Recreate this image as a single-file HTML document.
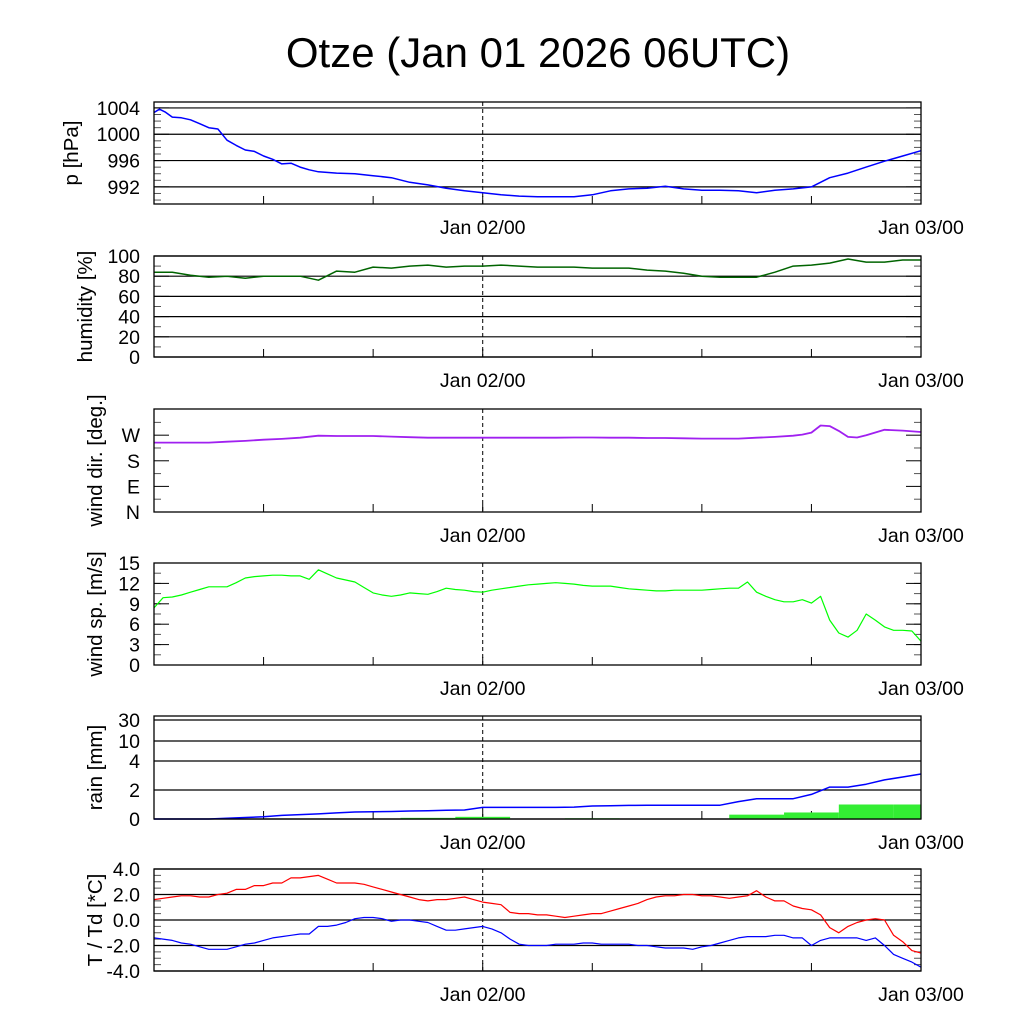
<!DOCTYPE html>
<html><head><meta charset="utf-8"><style>
html,body{margin:0;padding:0;background:#fff;}
svg{display:block;font-family:"Liberation Sans",sans-serif;}
</style></head><body>
<svg id="chart" width="1024" height="1024" viewBox="0 0 1024 1024">
<rect width="1024" height="1024" fill="#fff"/>
<text x="538" y="67" font-size="42" text-anchor="middle">Otze (Jan 01 2026 06UTC)</text>
</svg>
<script>
// hours since Jan 01 06UTC
const hours = [0,1,2,3,4,5,6,7,8,9,10,11,12,13,14,15,16,17,18,19,20,21,22,23,24,25,26,27,28,29,30,31,32,33,34,35,36,37,38,39,40,41,42];
const pressureHours = [0,0.3,0.6,1,1.5,2,2.5,3,3.5,4,4.5,5,5.5,6,6.5,7,7.5,8,8.5,9,10,11,12,13,14,15,16,17,18,19,20,21,22,23,24,25,26,27,28,29,30,31,32,33,34,35,36,37,38,39,40,41,42];
const pressure = [1003.3,1003.8,1003.4,1002.6,1002.5,1002.2,1001.6,1001,1000.8,999.1,998.3,997.6,997.4,996.7,996.2,995.5,995.6,995,994.6,994.3,994.1,994,993.7,993.4,992.7,992.3,991.8,991.4,991.1,990.8,990.6,990.5,990.5,990.5,990.8,991.4,991.7,991.8,992.1,991.7,991.5,991.5,991.4,991.1,991.5,991.7,992,993.4,994.1,995,995.9,996.7,997.5];
const humidity = [84,84,81,79,80,78,80,80,80,76,85,84,89,88,90,91,89,90,90,91,90,89,89,89,88,88,88,86,85,83,80,79,79,79,84,90,91,93,97,94,94,96,96];
const halfHours = [0,0.5,1,1.5,2,2.5,3,3.5,4,4.5,5,5.5,6,6.5,7,7.5,8,8.5,9,9.5,10,10.5,11,11.5,12,12.5,13,13.5,14,14.5,15,15.5,16,16.5,17,17.5,18,18.5,19,19.5,20,20.5,21,21.5,22,22.5,23,23.5,24,24.5,25,25.5,26,26.5,27,27.5,28,28.5,29,29.5,30,30.5,31,31.5,32,32.5,33,33.5,34,34.5,35,35.5,36,36.5,37,37.5,38,38.5,39,39.5,40,40.5,41,41.5,42];
const windDirHours = [0,1,2,3,4,5,6,7,8,9,10,11,12,13,14,15,16,17,18,19,20,21,22,23,24,25,26,27,28,29,30,31,32,33,34,35,35.5,36,36.5,37,37.5,38,38.5,39,40,41,42];
const windDir = [244,244,244,244,247,250,254,257,261,268,267,267,267,265,263,261,261,261,261,261,261,261,261,262,262,261,261,260,260,259,258,258,258,261,264,268,272,279,304,302,285,264,262,270,289,286,281];
const windSpd = [8.4,9.9,10,10.3,10.7,11.1,11.5,11.5,11.5,12.1,12.8,13,13.1,13.2,13.2,13.1,13.1,12.6,14,13.4,12.8,12.5,12.2,11.4,10.6,10.3,10.1,10.3,10.6,10.5,10.4,10.8,11.3,11.1,11,10.8,10.7,11,11.2,11.4,11.6,11.8,11.9,12,12.1,12,11.9,11.7,11.6,11.6,11.6,11.4,11.2,11.1,11,10.9,10.9,11,11,11,11,11.1,11.2,11.3,11.3,12.2,10.7,10.1,9.6,9.3,9.3,9.6,9.1,10.1,6.6,4.7,4.1,5.1,7.5,6.6,5.6,5.1,5.1,5,3.5];
const temp = [1.6,1.7,1.8,1.9,1.9,1.8,1.8,2.0,2.1,2.4,2.4,2.7,2.7,2.9,2.9,3.3,3.3,3.4,3.5,3.2,2.9,2.9,2.9,2.8,2.6,2.4,2.2,2.0,1.8,1.6,1.5,1.6,1.6,1.7,1.8,1.6,1.4,1.3,1.2,0.6,0.5,0.5,0.4,0.4,0.3,0.2,0.3,0.4,0.5,0.5,0.7,0.9,1.1,1.3,1.6,1.8,1.9,1.9,2.0,2.0,1.9,1.9,1.8,1.7,1.8,1.9,2.3,1.8,1.5,1.5,1.1,0.9,0.8,0.4,-0.6,-1.0,-0.5,-0.2,0,0.1,0,-1.2,-1.7,-2.4,-2.6];
const dewp = [-1.4,-1.5,-1.6,-1.8,-1.9,-2.1,-2.3,-2.3,-2.3,-2.1,-1.9,-1.8,-1.6,-1.4,-1.3,-1.2,-1.1,-1.1,-0.5,-0.5,-0.4,-0.2,0.1,0.2,0.2,0.1,-0.1,0,0,-0.1,-0.2,-0.5,-0.8,-0.8,-0.7,-0.6,-0.5,-0.7,-1.0,-1.5,-1.9,-2.0,-2.0,-2.0,-1.9,-1.9,-1.9,-1.8,-1.8,-1.9,-1.9,-1.9,-1.9,-2.0,-2.0,-2.1,-2.2,-2.2,-2.2,-2.3,-2.1,-2.0,-1.8,-1.6,-1.4,-1.3,-1.3,-1.3,-1.2,-1.2,-1.4,-1.4,-2.0,-1.6,-1.4,-1.4,-1.4,-1.4,-1.6,-1.4,-2.0,-2.7,-3.0,-3.3,-3.7];
const rainHours = [0,3,6,9,12,15,18,21,24,27,30,33,36,39,42];
const rainBars = [0,0,0.03,0.03,0.03,0.08,0.15,0,0.05,0.03,0,0.3,0.45,1.0,1.0];
const rainCum = [0,0,0,0,0.05,0.1,0.15,0.25,0.3,0.35,0.42,0.48,0.5,0.52,0.55,0.57,0.6,0.62,0.8,0.8,0.8,0.8,0.8,0.82,0.9,0.92,0.94,0.95,0.95,0.95,0.95,0.95,1.2,1.4,1.4,1.4,1.7,2.2,2.2,2.4,2.7,2.9,3.1];
const xTickLabels = ["Jan 02/00","Jan 03/00"];

const svg = document.getElementById('chart');
const NS = 'http://www.w3.org/2000/svg';
const X0 = 154, X1 = 921, H = 42;
function xs(h){ return X0 + (X1 - X0) * h / H; }
function mk(tag, attrs, parent){
  const e = document.createElementNS(NS, tag);
  for (const k in attrs) e.setAttribute(k, attrs[k]);
  (parent || svg).appendChild(e);
  return e;
}
function linScale(top, bot, vmax, vmin){ return v => bot - (v - vmin) / (vmax - vmin) * (bot - top); }
function pwScale(vals, ys){ return v => { for (let i=0;i<vals.length-1;i++){ if (v<=vals[i+1]) return ys[i] + (v-vals[i])/(vals[i+1]-vals[i])*(ys[i+1]-ys[i]); } return ys[ys.length-1]; }; }

function panel(name, top, bot, ys, majors, labels, minors, grid, ylabel, labelX){
  const g = mk('g', {});
  
  
  if (grid) majors.forEach(v => { const y = ys(v); mk('line', {x1:X0,x2:X1,y1:y,y2:y,stroke:'#000','stroke-width':1.2}, g); });
  minors.forEach(v => { const y = ys(v); mk('line', {x1:X0,x2:X0+7,y1:y,y2:y,stroke:'#555','stroke-width':1}, g); mk('line', {x1:X1-7,x2:X1,y1:y,y2:y,stroke:'#555','stroke-width':1}, g); });
  majors.forEach((v,i) => { const y = ys(v);
    mk('line', {x1:X0,x2:X0+15,y1:y,y2:y,stroke:'#000','stroke-width':1}, g);
    mk('line', {x1:X1-15,x2:X1,y1:y,y2:y,stroke:'#000','stroke-width':1}, g);
    const t = mk('text', {x:X0-14,y:y+7,'font-size':19.5,'text-anchor':'end'}, g); t.textContent = labels[i];
    
    
  });
  for (let h=6; h<H; h+=6){ mk('line', {x1:xs(h),x2:xs(h),y1:bot,y2:bot-8,stroke:'#000','stroke-width':1}, g); }
  mk('line', {x1:xs(18),x2:xs(18),y1:top,y2:bot,stroke:'#000','stroke-width':1,'stroke-dasharray':'4,3'}, g);
  const yl = mk('text', {transform:`translate(${labelX},${(top+bot)/2}) rotate(-90)`,'font-size':20.5,'text-anchor':'middle'}, g);
  yl.textContent = ylabel;
  
  
  [[18,xTickLabels[0]],[42,xTickLabels[1]]].forEach(([h,l]) => {
    const t = mk('text', {x:xs(h),y:bot+30,'font-size':19.5,'text-anchor':'middle'}, g); t.textContent = l;
    
    
  });
  return g;
}
function frame(g, top, bot){ mk('rect', {x:X0,y:top,width:X1-X0,height:bot-top,fill:'none',stroke:'#000','stroke-width':1.3}, g); }
function line(g, xsArr, vals, ys, color, w, name){
  const n = Math.min(xsArr.length, vals.length);
  const d = vals.slice(0,n).map((v,i) => (i?'L':'M') + xs(xsArr[i]).toFixed(1) + ',' + ys(v).toFixed(1)).join('');
  const p = mk('path', {d:d,fill:'none',stroke:color,'stroke-width':w,'stroke-linejoin':'round'}, g);
  
  
}
function range(a,b,s){ const r=[]; for(let v=a; v<=b+1e-9; v+=s) r.push(+v.toFixed(3)); return r; }

// pressure
let ys = linScale(102, 204, 1004.9, 989.4);
let g = panel('pressure', 102, 204, ys, [992,996,1000,1004], ['992','996','1000','1004'], range(990,1004,1), true, 'p [hPa]', 78);
line(g, pressureHours, pressure, ys, '#0000ff', 1.5, 'pressure-line'); frame(g,102,204);
// humidity
ys = linScale(256, 357, 100, 0);
g = panel('humidity', 256, 357, ys, [0,20,40,60,80,100], ['0','20','40','60','80','100'], range(0,100,10), true, 'humidity [%]', 92);
line(g, hours, humidity, ys, '#006400', 1.5, 'humidity-line'); frame(g,256,357);
// wind dir
ys = linScale(409, 512, 362, 0);
g = panel('wind-dir', 409, 512, ys, [0,90,180,270], ['N','E','S','W'], range(45,360,90), false, 'wind dir. [deg.]', 102);
line(g, windDirHours, windDir, ys, '#a020f0', 1.8, 'wind-dir-line'); frame(g,409,512);
// wind speed
ys = linScale(563, 665, 15, 0);
g = panel('wind-speed', 563, 665, ys, [0,3,6,9,12,15], ['0','3','6','9','12','15'], range(0,15,1.5), false, 'wind sp. [m/s]', 102);
line(g, halfHours, windSpd, ys, '#00ff00', 1.2, 'wind-speed-line'); frame(g,563,665);
// rain
ys = pwScale([0,2,4,10,30],[819,790,761,741,720]);
g = panel('rain', 716, 819, ys, [0,2,4,10,30], ['0','2','4','10','30'], [], true, 'rain [mm]', 102);
rainBars.forEach((v,i) => {
  const a = Math.max(0, rainHours[i]-1.5), b = Math.min(H, rainHours[i]+1.5);
  if (v <= 0) return;
  const r = mk('rect', {x:xs(a),y:ys(v),width:xs(b)-xs(a),height:819-ys(v),fill:'#33ee33'}, g);
  
  
});
line(g, hours, rainCum, ys, '#0000ff', 1.5, 'rain-cumulative-line'); frame(g,716,819);
// temperature
ys = linScale(869, 971, 4, -4);
g = panel('temperature', 869, 971, ys, [-4,-2,0,2,4], ['-4.0','-2.0','0.0','2.0','4.0'], range(-4,4,0.5), true, 'T / Td [*C]', 102);
line(g, halfHours, temp, ys, '#ff0000', 1.2, 'temperature-line');
line(g, halfHours, dewp, ys, '#0000ff', 1.2, 'dewpoint-line'); frame(g,869,971);
</script>
</body></html>
